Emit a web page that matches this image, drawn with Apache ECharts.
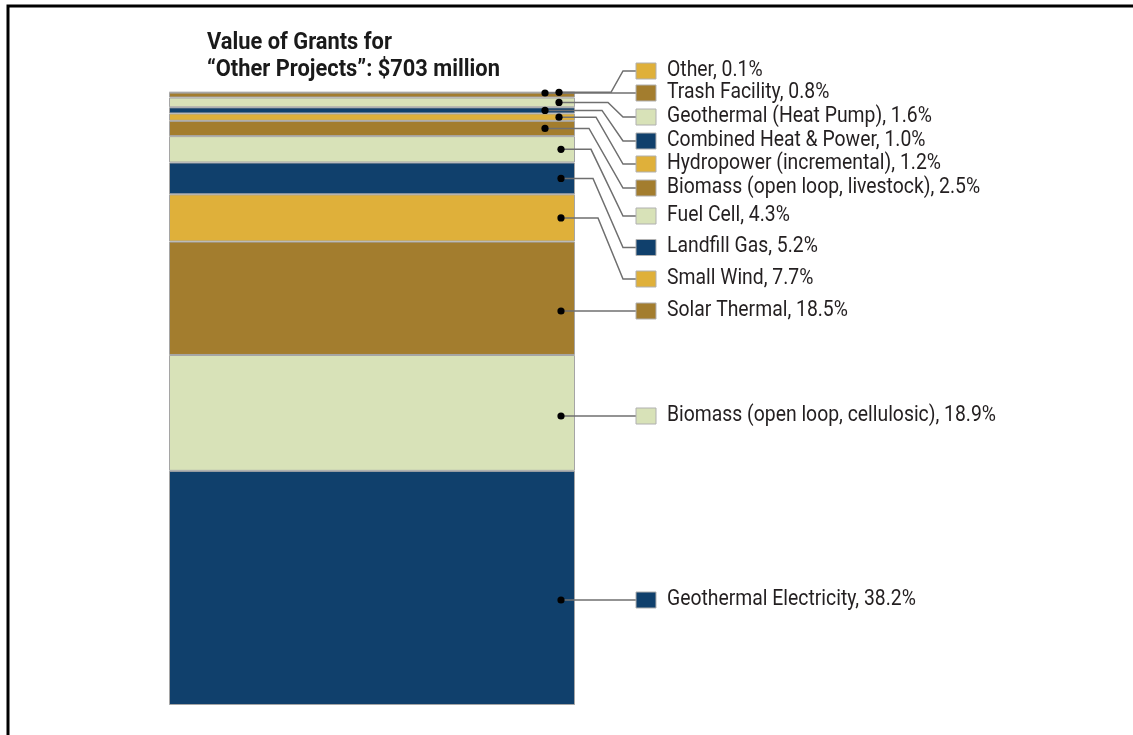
<!DOCTYPE html>
<html>
<head>
<meta charset="utf-8">
<title>Value of Grants for Other Projects</title>
<script src="https://cdn.jsdelivr.net/npm/echarts@6/dist/echarts.min.js"></script>
<style>
  html, body { margin: 0; padding: 0; background: #fff; }
  #chart { width: 1133px; height: 735px; }
</style>
</head>
<body>
<div id="chart"></div>
<script>
// stack order, bottom to top
const categories = [
  'Geothermal Electricity',
  'Biomass (open loop, cellulosic)',
  'Solar Thermal',
  'Small Wind',
  'Landfill Gas',
  'Fuel Cell',
  'Biomass (open loop, livestock)',
  'Hydropower (incremental)',
  'Combined Heat & Power',
  'Geothermal (Heat Pump)',
  'Trash Facility',
  'Other'
]
const shares = [38.2, 18.9, 18.5, 7.7, 5.2, 4.3, 2.5, 1.2, 1.0, 1.6, 0.8, 0.1]

const NAVY = '#10406c'
const SAGE = '#d8e2b8'
const BROWN = '#a37d2e'
const GOLD = '#dfb03a'
const colours = [NAVY, SAGE, BROWN, GOLD, NAVY, SAGE, BROWN, GOLD, NAVY, SAGE, BROWN, GOLD]

// label rows (px, centre of the swatch) and leader line geometry
const labelRowY = [600, 416, 311, 279, 247.5, 216, 188, 164, 141, 117, 93, 71]
const dotOffset = [-14, -14, -14, -14, -14, -14, -30, -16, -30, -16, -30, -16]
const elbowX = [600, 600, 600, 598, 593, 591, 589, 596, 602, 608, 600, 611]

// no condensed face installed, so squeeze Roboto sideways
const FONT = 'Roboto'
const SQUEEZE = 0.88

const starts = []
let acc = 0
shares.forEach(v => { starts.push(acc); acc += v })

const chart = echarts.init(document.getElementById('chart'))

const barSeries = categories.map((name, i) => ({
  name: name,
  type: 'bar',
  stack: 'total',
  barWidth: '100%',
  silent: true,
  itemStyle: { color: colours[i], borderColor: '#a5a5a5', borderWidth: 1 },
  data: [shares[i]]
}))

function renderLeader (params, api) {
  const i = params.dataIndex
  const top = api.coord([api.value(0), api.value(2)])
  const bottom = api.coord([api.value(0), api.value(1)])
  const barRight = top[0] + api.size([1, 0])[0] / 2
  const rowY = labelRowY[i]
  // dot goes on the label row if that row crosses the segment, otherwise mid segment
  const dotY = (rowY >= top[1] - 0.5 && rowY <= bottom[1] + 0.5) ? rowY : (top[1] + bottom[1]) / 2
  const dotX = barRight + dotOffset[i]
  const swatchX = 636
  return {
    type: 'group',
    children: [
      {
        type: 'polyline',
        shape: { points: [[dotX, dotY], [elbowX[i], dotY], [623, rowY], [swatchX, rowY]] },
        style: { stroke: '#6f6f6f', lineWidth: 1.5, fill: null }
      },
      {
        type: 'circle',
        shape: { cx: dotX, cy: dotY, r: 3.6 },
        style: { fill: '#000' }
      },
      {
        type: 'rect',
        shape: { x: swatchX, y: rowY - 8, width: 20, height: 16 },
        style: { fill: colours[i], stroke: '#b0b0b0', lineWidth: 1 }
      },
      {
        type: 'text',
        x: 667,
        y: rowY - 1,
        scaleX: SQUEEZE,
        style: {
          text: categories[i] + ', ' + shares[i].toFixed(1) + '%',
          fill: '#231f20',
          font: '22px ' + FONT,
          verticalAlign: 'middle',
          align: 'left'
        }
      }
    ]
  }
}

chart.setOption({
  animation: false,
  graphic: [
    {
      type: 'rect',
      silent: true,
      shape: { x: 8, y: 6, width: 1200, height: 800 },
      style: { fill: 'none', stroke: '#000', lineWidth: 3 }
    },
    {
      type: 'text',
      silent: true,
      x: 207,
      y: 29,
      scaleX: 0.91,
      style: {
        text: 'Value of Grants for\n“Other Projects”: $703 million',
        font: 'bold 24px ' + FONT,
        lineHeight: 27,
        fill: '#1a1a1a',
        verticalAlign: 'top'
      }
    }
  ],
  grid: { left: 169, right: 558, top: 92, bottom: 30 },
  xAxis: { type: 'category', data: ['Other Projects'], show: false },
  yAxis: { type: 'value', min: 0, max: 100, show: false, splitLine: { show: false } },
  series: barSeries.concat([
    {
      type: 'custom',
      silent: true,
      z: 5,
      renderItem: renderLeader,
      data: categories.map((c, i) => [0, starts[i], starts[i] + shares[i]])
    }
  ])
})
</script>
</body>
</html>
